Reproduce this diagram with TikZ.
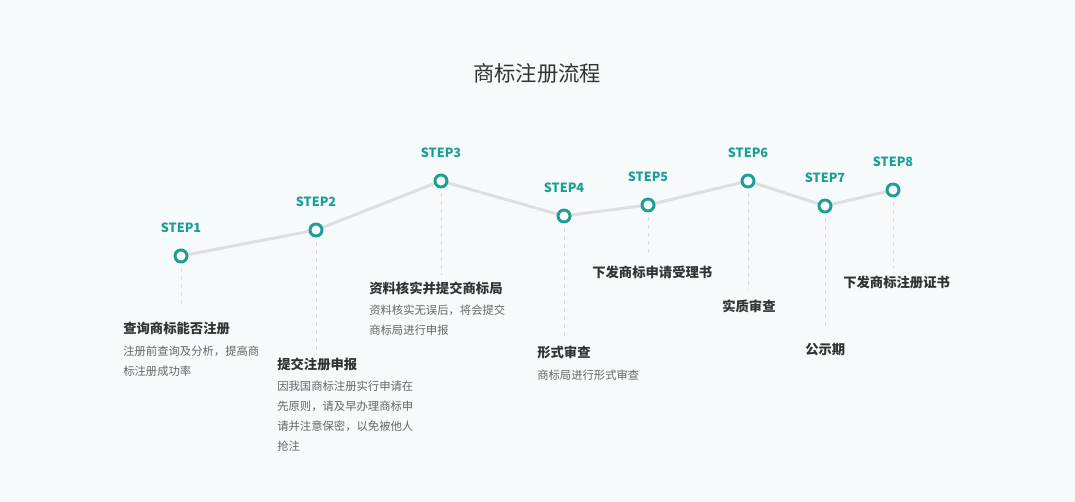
\documentclass[tikz,border=0pt]{standalone}
\usepackage{fontspec}
\setmainfont{Noto Sans CJK SC}
\usetikzlibrary{positioning}
\definecolor{teal1}{HTML}{1A9E96}
\definecolor{bgc}{HTML}{F7FAFA}
\definecolor{txt}{HTML}{333333}
\definecolor{gry}{HTML}{666666}
\tikzset{
  dot/.style={circle,draw=teal1,line width=2.2pt,fill=white,minimum size=9pt,inner sep=0pt},
  steplab/.style={font=\fontsize{9.5}{11}\selectfont\bfseries,text=teal1,above=8pt of #1},
  ttl/.style={font=\fontsize{10}{12}\selectfont\bfseries,text=txt,anchor=west,inner sep=0pt},
  desc/.style={font=\fontsize{8.5}{15}\selectfont,text=gry,anchor=north west,align=left,inner sep=0pt},
  guide/.style={draw=black!15,dashed,line width=0.6pt}
}
\begin{document}
\begin{tikzpicture}[x=0.75pt,y=-0.75pt]
\fill[bgc] (0,0) rectangle (1075,502);
\useasboundingbox (0,0) rectangle (1075,502);
\node[font=\fontsize{16}{18}\selectfont,text=txt] (title) at (537,73) {商标注册流程};
% steps
\foreach \n/\x/\y in {1/181/256,2/316/230,3/441/181,4/564/216,5/648/205,6/748/181,7/825/206,8/893/190}
  \coordinate (c\n) at (\x,\y);
\draw[black!13,line width=2.2pt] (c1) -- (c2) -- (c3) -- (c4) -- (c5) -- (c6) -- (c7) -- (c8);
\foreach \n in {1,...,8}
{
  \node[dot] (s\n) at (c\n) {};
  \node[steplab=s\n] {STEP\n};
}
% titles
\node[ttl] (t1) at (123,328) {查询商标能否注册};
\node[ttl] (t2) at (277,364) {提交注册申报};
\node[ttl] (t3) at (369,288) {资料核实并提交商标局};
\node[ttl] (t4) at (537,352) {形式审查};
\node[ttl] (t5) at (592,272) {下发商标申请受理书};
\node[ttl] (t6) at (722,306) {实质审查};
\node[ttl] (t7) at (805,350) {公示期};
\node[ttl] (t8) at (843,282) {下发商标注册证书};
% descriptions
\node[desc] (d1) at (123,346) {注册前查询及分析，提高商\\标注册成功率};
\node[desc] (d2) at (277,381) {因我国商标注册实行申请在\\先原则，请及早办理商标申\\请并注意保密，以免被他人\\抢注};
\node[desc] (d3) at (369,305) {资料核实无误后，将会提交\\商标局进行申报};
\node[desc] (d4) at (537,370) {商标局进行形式审查};
% guides
\foreach \n/\e in {1/306,2/355,3/275,4/336,5/256,6/290,7/328,8/268}
  \draw[guide] (s\n.south) ++(0,5) -- (s\n |- 0,\e);
\end{tikzpicture}
\end{document}
